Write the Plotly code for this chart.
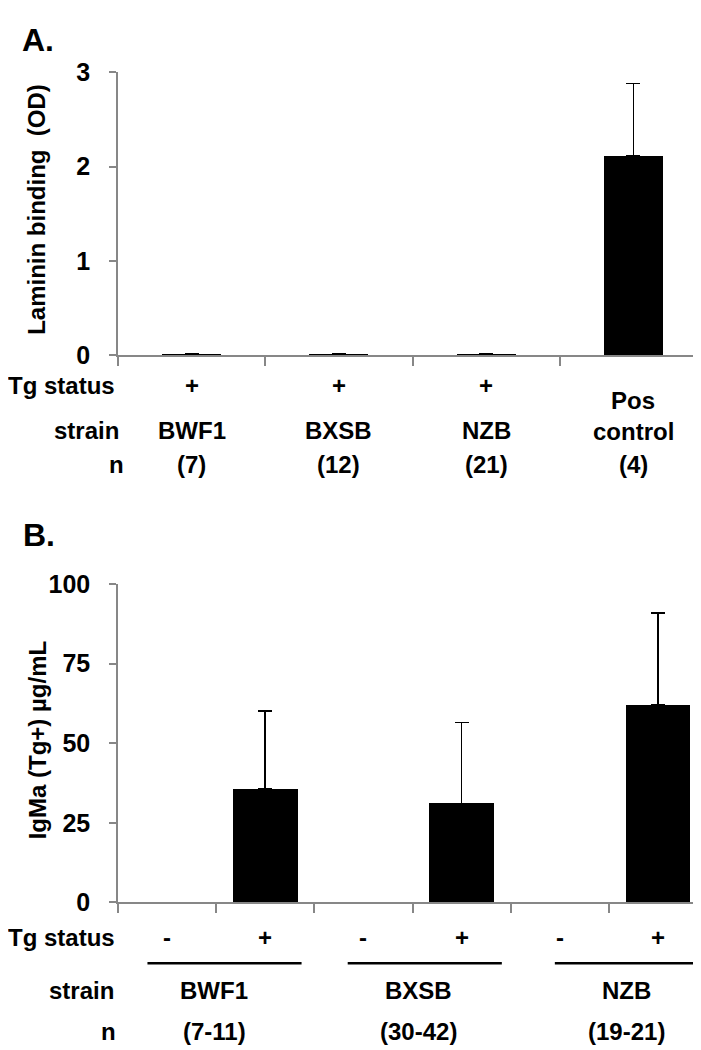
import plotly.graph_objects as go

# ---------------- data ----------------
# Panel A
a_groups = ["BWF1", "BXSB", "NZB", "Pos control"]
a_tg = ["+", "+", "+", ""]
a_n = ["(7)", "(12)", "(21)", "(4)"]
a_values = [0.01, 0.01, 0.01, 2.11]
a_errors = [0.005, 0.005, 0.005, 0.77]
a_yticks = [0, 1, 2, 3]

# Panel B
b_strains = ["BWF1", "BXSB", "NZB"]
b_tg = ["-", "+", "-", "+", "-", "+"]
b_n = ["(7-11)", "(30-42)", "(19-21)"]
b_values = [None, 35.7, None, 31.1, None, 62.0]
b_errors = [0, 24.5, 0, 25.4, 0, 29.0]
b_yticks = [0, 25, 50, 75, 100]

# ---------------- layout helpers ----------------
W, H = 701, 1050
ML, MR = 110, 2
PW = W - ML - MR
FONT = "Liberation Sans, Arial, sans-serif"
AXC = "#878787"


def yp(py):
    return (H - py) / H


def xp(px):
    return (px - ML) / PW


fig = go.Figure()

a_x = [i + 0.5 for i in range(len(a_values))]
fig.add_trace(go.Bar(
    x=a_x, y=a_values, width=0.4, marker=dict(color="black", line=dict(width=0)),
    error_y=dict(type="data", array=a_errors, arrayminus=[0] * len(a_errors),
                 symmetric=False, color="black", thickness=1.6, width=7),
    xaxis="x", yaxis="y", showlegend=False))

b_x = [i + 0.5 for i in range(len(b_values))]
fig.add_trace(go.Bar(
    x=b_x, y=b_values, width=0.66, marker=dict(color="black", line=dict(width=0)),
    error_y=dict(type="data", array=b_errors, arrayminus=[0] * len(b_errors),
                 symmetric=False, color="black", thickness=1.6, width=7),
    xaxis="x2", yaxis="y2", showlegend=False))

xcommon = dict(showgrid=False, zeroline=False, showline=True, linecolor=AXC, linewidth=1.5,
               ticks="outside", ticklen=9, tickwidth=1.5, tickcolor=AXC, showticklabels=False)
ycommon = dict(showgrid=False, zeroline=False, showline=True, linecolor=AXC, linewidth=1.5,
               ticks="outside", ticklen=7, tickwidth=1.5, tickcolor=AXC,
               tickfont=dict(family=FONT, size=25, color="black"), ticklabelstandoff=14)

fig.update_layout(
    width=W, height=H, autosize=False,
    margin=dict(l=ML, r=MR, t=0, b=0),
    paper_bgcolor="white", plot_bgcolor="white",
    bargap=0,
    xaxis=dict(domain=[0, 1], range=[0, len(a_values)],
               tickvals=list(range(len(a_values) + 1)), anchor="y", **xcommon),
    yaxis=dict(domain=[yp(342.5), yp(51.7)], range=[0, 3], tickvals=a_yticks,
               ticktext=[f"<b>{v}</b>" for v in a_yticks], anchor="x", **ycommon),
    xaxis2=dict(domain=[0, 1], range=[0, len(b_values)],
                tickvals=list(range(len(b_values) + 1)), anchor="y2", **xcommon),
    yaxis2=dict(domain=[yp(904.5), yp(577.6)], range=[0, 100], tickvals=b_yticks,
                ticktext=[f"<b>{v}</b>" for v in b_yticks], anchor="x2", **ycommon),
)

ann = []


def txt(text, x, y, xref="paper", size=24, xanchor="center", angle=0):
    ann.append(dict(text=f"<b>{text}</b>", x=x, y=y, xref=xref, yref="paper",
                    xanchor=xanchor, yanchor="middle", showarrow=False, textangle=angle,
                    font=dict(family=FONT, size=size, color="black")))


# Panel letters
txt("A.", xp(12), yp(18), size=32, xanchor="left")
txt("B.", xp(13), yp(527), size=32, xanchor="left")

# Axis titles
txt("Laminin binding&nbsp; (OD)", xp(29), yp(193), size=24, angle=-90)
txt("IgMa (Tg+) µg/mL", xp(29), yp(738), size=24, angle=-90)

# Panel A row labels
txt("Tg status", xp(109), yp(373), xanchor="right")
txt("strain", xp(113), yp(420), xanchor="right")
txt("n", xp(108), yp(455))
for i, g in enumerate(a_groups):
    if a_tg[i]:
        txt(a_tg[i], a_x[i], yp(373), xref="x")
        txt(g, a_x[i], yp(420), xref="x")
    else:
        words = g.split(" ")
        txt(words[0], a_x[i], yp(389), xref="x")
        txt(words[1], a_x[i], yp(421), xref="x")
    txt(a_n[i], a_x[i], yp(455), xref="x")

# Panel B row labels
txt("Tg status", xp(109), yp(941), xanchor="right")
txt("strain", xp(108), yp(995), xanchor="right")
txt("n", xp(100), yp(1037))
for i, t in enumerate(b_tg):
    txt(t, b_x[i], yp(941), xref="x2")

label_pos = [0.98, 3.06, 5.18]
line_ext = [(0.3, 1.87), (2.34, 3.91), (4.45, 6.0)]
shapes = []
for i, s in enumerate(b_strains):
    txt(s, label_pos[i], yp(995), xref="x2")
    txt(b_n[i], label_pos[i], yp(1037), xref="x2")
    x0, x1 = line_ext[i]
    shapes.append(dict(type="line", xref="x2", yref="paper", x0=x0, x1=x1,
                       y0=yp(967), y1=yp(967), line=dict(color="black", width=2.5)))

fig.update_layout(annotations=ann, shapes=shapes)

fig.write_html("out.html")
